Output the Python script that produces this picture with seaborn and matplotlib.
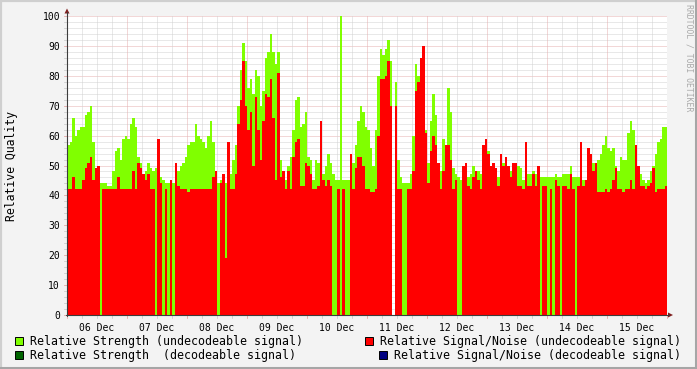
import numpy as np
import pandas as pd
import matplotlib
matplotlib.use("Agg")
import matplotlib.pyplot as plt
import seaborn as sns
from matplotlib.lines import Line2D
from matplotlib.patches import Rectangle, Polygon

# ---------------- data (hourly values, 06 Dec 00:00 .. 15 Dec 23:00) ----------------
day_labels = ["06 Dec", "07 Dec", "08 Dec", "09 Dec", "10 Dec",
              "11 Dec", "12 Dec", "13 Dec", "14 Dec", "15 Dec"]

# Relative Strength (undecodeable signal)
strength_06 = [57, 58, 66, 60, 62, 63, 63, 67, 68, 70, 58, 48, 44, 44, 44, 44, 43, 43, 48, 55, 56, 52, 59, 60]
strength_07 = [59, 64, 66, 63, 53, 51, 46, 48, 51, 49, 48, 49, 48, 46, 45, 44, 44, 44, 44, 48, 48, 50, 51, 53]
strength_08 = [57, 58, 58, 64, 60, 59, 58, 56, 60, 65, 58, 47, 44, 45, 45, 44, 44, 47, 52, 57, 70, 82, 91, 85]
strength_09 = [76, 79, 74, 82, 80, 70, 75, 86, 88, 94, 88, 84, 88, 52, 47, 45, 50, 53, 62, 72, 73, 63, 64, 68]
strength_10 = [53, 52, 45, 52, 51, 49, 47, 50, 54, 51, 47, 45, 45, 100, 45, 45, 45, 52, 51, 57, 65, 70, 68, 63]
strength_11 = [62, 56, 50, 62, 80, 89, 87, 89, 92, 85, 0, 78, 52, 46, 44, 44, 44, 47, 60, 84, 80, 84, 90, 62]
strength_12 = [51, 65, 74, 67, 46, 48, 59, 52, 76, 68, 49, 47, 46, 45, 45, 46, 46, 47, 50, 48, 48, 47, 51, 51]
strength_13 = [55, 48, 48, 44, 46, 49, 51, 50, 48, 48, 48, 49, 50, 49, 45, 44, 47, 47, 48, 47, 47, 46, 46, 46]
strength_14 = [46, 46, 46, 47, 46, 46, 47, 47, 47, 50, 46, 46, 46, 46, 45, 45, 49, 49, 51, 51, 52, 54, 57, 60]
strength_15 = [56, 55, 56, 50, 48, 53, 52, 52, 61, 65, 62, 55, 49, 47, 45, 44, 45, 48, 50, 54, 58, 59, 63, 63]

# Relative Signal/Noise (undecodeable signal)
snr_06 = [42, 42, 46, 42, 42, 42, 45, 49, 51, 53, 45, 49, 50, 0, 42, 42, 42, 42, 42, 42, 46, 42, 42, 42]
snr_07 = [42, 42, 48, 42, 51, 49, 47, 45, 47, 42, 42, 0, 59, 44, 0, 42, 0, 45, 0, 51, 43, 42, 42, 42]
snr_08 = [41, 42, 42, 42, 42, 42, 42, 42, 42, 42, 46, 48, 0, 44, 47, 19, 58, 42, 42, 47, 64, 72, 85, 70]
snr_09 = [62, 68, 50, 73, 62, 52, 65, 74, 73, 79, 66, 45, 81, 46, 48, 42, 48, 42, 53, 58, 59, 43, 43, 51]
snr_10 = [50, 47, 42, 42, 43, 65, 45, 43, 45, 43, 0, 0, 42, 0, 42, 0, 0, 54, 42, 49, 53, 53, 50, 42]
snr_11 = [42, 41, 41, 42, 60, 79, 79, 80, 85, 70, 0, 70, 42, 42, 0, 0, 42, 42, 48, 75, 78, 86, 90, 61]
snr_12 = [44, 55, 60, 57, 51, 42, 48, 57, 57, 52, 42, 45, 0, 0, 50, 51, 43, 42, 46, 48, 45, 42, 57, 59]
snr_13 = [54, 50, 51, 49, 43, 54, 50, 53, 50, 46, 51, 51, 43, 43, 42, 58, 43, 43, 47, 43, 50, 0, 43, 43]
snr_14 = [0, 42, 0, 45, 43, 0, 43, 43, 42, 47, 42, 0, 43, 58, 43, 45, 56, 54, 48, 51, 41, 41, 41, 42]
snr_15 = [41, 42, 45, 49, 42, 42, 41, 42, 42, 45, 42, 57, 50, 43, 43, 42, 43, 44, 49, 41, 42, 42, 42, 43]

strength = (strength_06 + strength_07 + strength_08 + strength_09 + strength_10 +
            strength_11 + strength_12 + strength_13 + strength_14 + strength_15)
snr = snr_06 + snr_07 + snr_08 + snr_09 + snr_10 + snr_11 + snr_12 + snr_13 + snr_14 + snr_15
hours = np.arange(len(strength))

legend_left = ["Relative Strength (undecodeable signal)", "Relative Strength  (decodeable signal)"]
legend_right = ["Relative Signal/Noise (undecodeable signal)", "Relative Signal/Noise (decodeable signal)"]

# ---------------- styling ----------------
W, H = 697, 369
sns.set_theme(style="white")
plt.rcParams["font.family"] = ["DejaVu Sans Mono", "DejaVu Sans"]

C_BACK = "#F3F3F3"
C_GREEN = "#80FF00"
C_DGREEN = "#006400"
C_RED = "#FF0000"
C_NAVY = "#000080"
C_GRID = "#D2D2D2"
C_MGRID = "#E6B0B0"
C_AXIS = "#3C3C3C"
C_ARROW = "#7F1F1F"


def fx(x):
    return x / W


def fy(y):
    return 1 - y / H


fig = plt.figure(figsize=(W / 100, H / 100), dpi=100, facecolor=C_BACK)
L, R, T, B = 67, 667, 16, 315
ax = fig.add_axes([fx(L), fy(B), (R - L) / W, (B - T) / H])
ax.set_facecolor("white")

df = pd.DataFrame({"t": hours + 0.5, "strength": strength, "snr": snr})
sns.barplot(data=df, x="t", y="strength", native_scale=True, orient="x", width=1.0,
            color=C_GREEN, saturation=1, errorbar=None, linewidth=0, edgecolor="none",
            ax=ax, zorder=2)
sns.barplot(data=df, x="t", y="snr", native_scale=True, orient="x", width=1.0,
            color=C_RED, saturation=1, errorbar=None, linewidth=0, edgecolor="none",
            ax=ax, zorder=3)
for p in ax.patches:
    p.set_antialiased(False)

ax.set_xlim(0, 240)
ax.set_ylim(0, 100)
ax.set_xlabel("")
ax.set_ylabel("")
for s in ax.spines.values():
    s.set_visible(False)

# grid (below the data)
for v in range(2, 101, 2):
    ax.axhline(v, color=C_MGRID if v % 10 == 0 else C_GRID, lw=0.72,
               linestyle=(0, (1, 1)), zorder=1)
for h in range(6, 240, 6):
    ax.axvline(h, color=C_MGRID if h % 24 == 0 else C_GRID, lw=0.72,
               linestyle=(0, (1, 1)), zorder=1)

# ticks and labels
ax.set_yticks(range(0, 101, 10))
ax.set_yticklabels([str(v) for v in range(0, 101, 10)])
ax.set_xticks(np.arange(12, 240, 24))
ax.set_xticklabels(day_labels)
ax.tick_params(axis="both", length=0, labelsize=7, colors="black")
ax.tick_params(axis="y", pad=5)
ax.tick_params(axis="x", pad=5.5)

# tick marks drawn along the axes
ytr = ax.get_yaxis_transform()
xtr = ax.get_xaxis_transform()
for v in range(0, 101, 2):
    ax.plot([-3 / 600, 0], [v, v], transform=ytr, color=C_MGRID if v % 10 == 0 else C_GRID,
            lw=0.72, clip_on=False, zorder=5)
for h in range(0, 241, 6):
    ax.plot([h, h], [-3 / 299, 0], transform=xtr, color=C_MGRID if h % 24 == 0 else C_GRID,
            lw=0.72, clip_on=False, zorder=5)

# axes lines with arrows
fig.add_artist(Line2D([fx(L), fx(L)], [fy(B + 1), fy(12)], color=C_AXIS, lw=0.8))
fig.add_artist(Line2D([fx(L - 1), fx(669)], [fy(B), fy(B)], color=C_AXIS, lw=0.8))
fig.add_artist(Polygon([(fx(64.5), fy(13.5)), (fx(69.5), fy(13.5)), (fx(67), fy(8.5))],
                       closed=True, color=C_ARROW, lw=0))
fig.add_artist(Polygon([(fx(668), fy(312.5)), (fx(668), fy(317.5)), (fx(673), fy(315))],
                       closed=True, color=C_ARROW, lw=0))

# frame of the canvas
fig.add_artist(Line2D([0, 1], [fy(0.8), fy(0.8)], color="#CFCFCF", lw=1.6))
fig.add_artist(Line2D([fx(0.8), fx(0.8)], [0, 1], color="#CFCFCF", lw=1.6))
fig.add_artist(Line2D([0, 1], [fy(367.5), fy(367.5)], color="#A6A6A6", lw=2.2))
fig.add_artist(Line2D([fx(695.5), fx(695.5)], [0, 1], color="#A6A6A6", lw=2.2))

# texts
fig.text(fx(12), fy(165.5), "Relative Quality", rotation=90, ha="center", va="center",
         fontsize=8.3, color="black")
fig.text(fx(688.5), fy(4), "RRDTOOL / TOBI OETIKER", rotation=270, ha="center", va="top",
         fontsize=5.9, color="#AAAAAA")

# legend
legend_items = [
    (15, 337, C_GREEN, 30, 341, legend_left[0]),
    (15, 351, C_DGREEN, 30, 355, legend_left[1]),
    (365, 337, C_RED, 380, 341, legend_right[0]),
    (379, 351, C_NAVY, 394, 355, legend_right[1]),
]
for sx, sy, col, tx, ty, label in legend_items:
    fig.add_artist(Rectangle((fx(sx), fy(sy + 8)), 8 / W, 8 / H, facecolor=col,
                             edgecolor="black", lw=0.7))
    fig.text(fx(tx), fy(ty), label, ha="left", va="center", fontsize=8.36, color="black")

fig.savefig("out.png", dpi=100, facecolor=C_BACK)
